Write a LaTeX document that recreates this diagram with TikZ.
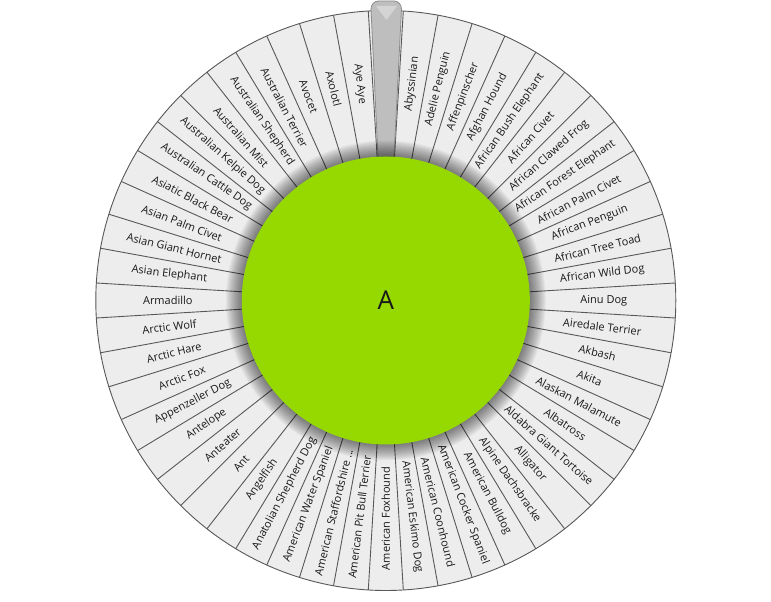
\documentclass[tikz,border=0pt]{standalone}
\usepackage{fontspec}
\setmainfont{Open Sans}
\definecolor{segfill}{RGB}{237,237,237}
\definecolor{segline}{RGB}{88,88,88}
\definecolor{wheelgreen}{RGB}{150,217,0}
\definecolor{txt}{RGB}{25,25,25}
\definecolor{ptrfill}{RGB}{190,190,190}
\definecolor{ptrline}{RGB}{140,140,140}
\newcommand{\mytruncdots}{...}
\begin{document}
\begin{tikzpicture}[x=1bp,y=1bp,
  segstroke/.style={draw=segline,line width=0.9bp},
  lbl/.style={font=\fontsize{11bp}{13bp}\selectfont,text=txt,inner sep=0pt},
  ptrstyle/.style={fill=ptrfill,draw=ptrline,line width=0.8bp},
  centerlbl/.style={font=\fontsize{26bp}{30bp}\selectfont,text=txt,inner sep=0pt}]
\useasboundingbox (0,0) rectangle (771,602);
\begin{scope}[shift={(385.8,301.5)}]
  \fill[segfill] (0,0) circle (290);
  \foreach \k in {0,...,51}
    \draw[segstroke] ({93.4615-\k*6.923077}:140) -- ({93.4615-\k*6.923077}:290);
  \draw[segstroke] (0,0) circle (290);
  \foreach \t [count=\k] in {Abyssinian, Adelie Penguin, Affenpinscher, Afghan Hound, African Bush Elephant, African Civet, African Clawed Frog, African Forest Elephant, African Palm Civet, African Penguin, African Tree Toad, African Wild Dog, Ainu Dog, Airedale Terrier, Akbash, Akita, Alaskan Malamute, Albatross, Aldabra Giant Tortoise, Alligator, Alpine Dachsbracke, American Bulldog, American Cocker Spaniel, American Coonhound, American Eskimo Dog, American Foxhound, American Pit Bull Terrier, American Staffordshire \mytruncdots, American Water Spaniel, Anatolian Shepherd Dog, Angelfish, Ant, Anteater, Antelope, Appenzeller Dog, Arctic Fox, Arctic Hare, Arctic Wolf, Armadillo, Asian Elephant, Asian Giant Hornet, Asian Palm Civet, Asiatic Black Bear, Australian Cattle Dog, Australian Kelpie Dog, Australian Mist, Australian Shepherd, Australian Terrier, Avocet, Axolotl, Aye Aye}
  {
    \pgfmathsetmacro\ang{90-\k*6.923077}
    \pgfmathsetmacro\rot{ifthenelse(\k<26,\ang,\ang+180)}
    \node[lbl,rotate=\rot] (l\k) at (\ang:218) {\t};
  }
\end{scope}
% pointer
\draw[ptrstyle] (378,445) -- (371,593) to[out=90,in=180] (378.5,601) -- (394,601) to[out=0,in=90] (401.5,593) -- (394,445) -- cycle;
\fill[white,opacity=0.35] (376,596) -- (397,596) -- (386.5,582) -- cycle;
\begin{scope}[shift={(385.8,301.5)}]
  \foreach \i in {0,...,15}
    \fill[black,opacity=0.035] (0,0) circle ({160-\i});
  \fill[wheelgreen] (0,0) circle (144);
  \node[centerlbl] (center) at (0,0) {A};
\end{scope}
\end{tikzpicture}
\end{document}
